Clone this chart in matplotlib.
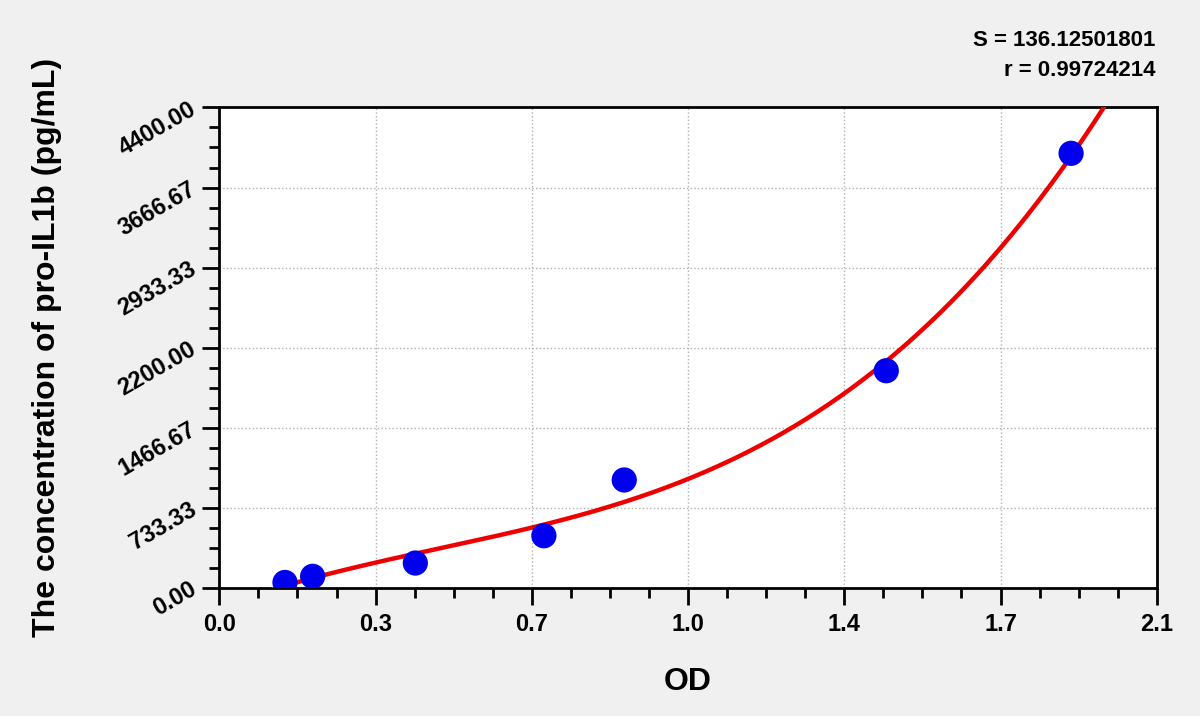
import numpy as np
import matplotlib.pyplot as plt
from matplotlib.ticker import AutoMinorLocator

# standard curve points
od = [0.147, 0.209, 0.439, 0.727, 0.907, 1.494, 1.908]
conc = [48, 104, 226, 476, 987, 1988, 3980]

x_ticks = [0.0, 0.35, 0.7, 1.05, 1.4, 1.75, 2.1]
x_labels = ["0.0", "0.3", "0.7", "1.0", "1.4", "1.7", "2.1"]
y_ticks = [0, 733.33, 1466.67, 2200, 2933.33, 3666.67, 4400]
y_labels = ["0.00", "733.33", "1466.67", "2200.00", "2933.33", "3666.67", "4400.00"]

s_text = "S = 136.12501801"
r_text = "r = 0.99724214"

plt.rcParams["font.family"] = ["Liberation Sans", "DejaVu Sans"]
plt.rcParams["font.weight"] = "bold"

fig = plt.figure(figsize=(12, 7.16), dpi=100, facecolor="#f0f0f0")
ax = fig.add_axes([0.1828, 0.1792, 0.7812, 0.6707])
ax.set_facecolor("white")

# cubic fit through the standards
coef = np.polyfit(od, conc, 3)
xs = np.linspace(0.03, 2.05, 400)
ys = np.polyval(coef, xs)
ax.plot(xs, ys, color="#ee0000", lw=3.2, zorder=3)
ax.scatter(od, conc, s=330, color="#0000ee", zorder=4, edgecolors="none")

ax.set_xlim(0, 2.1)
ax.set_ylim(0, 4400)
ax.set_xticks(x_ticks)
ax.set_xticklabels(x_labels, fontsize=17, fontweight="bold")
ax.set_yticks(y_ticks)
ax.set_yticklabels(y_labels, fontsize=17, fontweight="bold", rotation=30,
                   ha="right", va="center", rotation_mode="anchor")
ax.xaxis.set_minor_locator(AutoMinorLocator(4))
ax.yaxis.set_minor_locator(AutoMinorLocator(4))
ax.tick_params(which="major", length=12, width=2, direction="out")
ax.tick_params(which="minor", length=7, width=2, direction="out")
ax.tick_params(axis="x", which="major", pad=6)
ax.tick_params(axis="y", which="major", pad=6)
ax.grid(True, which="major", linestyle=":", color="#b0b0b0", lw=1)
for sp in ax.spines.values():
    sp.set_linewidth(2)

ax.set_xlabel("OD", fontsize=23, fontweight="bold")
ax.xaxis.set_label_coords(0.5, -0.165)
ax.set_ylabel("The concentration of pro-IL1b (pg/mL)", fontsize=23, fontweight="bold")
ax.yaxis.set_label_coords(-0.168, 0.5)

fig.text(0.9625, 0.944, s_text, ha="right", va="center", fontsize=16, fontweight="bold")
fig.text(0.9625, 0.902, r_text, ha="right", va="center", fontsize=16, fontweight="bold")

fig.savefig("out.png", dpi=100, facecolor=fig.get_facecolor())
